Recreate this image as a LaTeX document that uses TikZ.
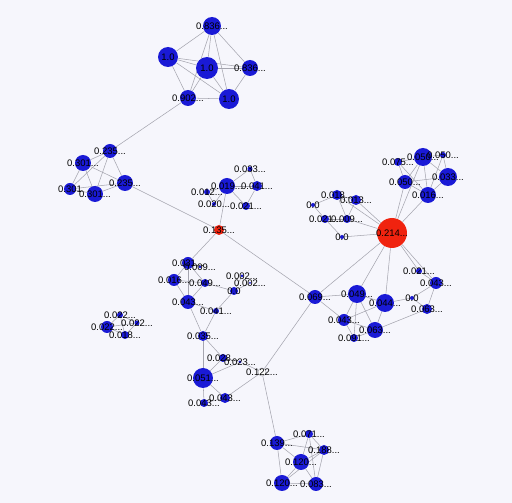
\documentclass[tikz,border=0pt]{standalone}
\usepackage{fontspec}
\setmainfont{Liberation Sans}
\definecolor{nblue}{RGB}{26,26,214}
\definecolor{nred}{RGB}{240,35,15}
\definecolor{bgcol}{RGB}{246,246,252}
\definecolor{ecol}{RGB}{165,165,175}
\newcommand\trail{...}
\pgfdeclarelayer{background}
\pgfdeclarelayer{edges}
\pgfdeclarelayer{labels}
\pgfsetlayers{background,edges,main,labels}
\begin{document}
\begin{tikzpicture}[x=0.02cm,y=-0.02cm,
    vb/.style={circle,fill=nblue,inner sep=0pt,minimum size=#1*0.2mm},
    vr/.style={circle,fill=nred,inner sep=0pt,minimum size=#1*0.2mm},
    vw/.style={circle,fill=white,draw=ecol,line width=0.3pt,inner sep=0pt,minimum size=#1*0.2mm},
    lbl/.style={font=\fontsize{5.4}{6}\selectfont,inner sep=0pt},
    link/.style={ecol,line width=0.3pt}]
    \begin{pgfonlayer}{background}
        \fill[bgcol] (0,0) rectangle (512,503);
    \end{pgfonlayer}
    \foreach \n/\x/\y/\d/\t in {a1/212/26/18/0.836\trail, a2/168/57/20/1.0, a3/207/68/22/1.0,
        a4/250/68/16/0.836\trail, a5/188/98/16/0.902\trail, a6/229/99/20/1.0,
        b1/110/151/14/0.235\trail, b2/83/163/16/0.301\trail, b3/70/189/12/0.301,
        b4/95/194/16/0.301\trail, b5/125/183/16/0.235\trail,
        c1/250/169/5/0.033\trail, c2/227/186/16/0.019\trail, c3/257/186/10/0.041\trail,
        c4/207/192/6/0.012\trail, c5/214/204/4/0.020\trail, c6/246/206/8/0.021\trail,
        d1/313/205/4/0.0, d2/337/195/10/0.018\trail, d3/356/200/10/0.013\trail,
        d4/325/219/8/0.021\trail, d5/347/219/8/0.009\trail, d6/342/237/4/0.0,
        e1/398/162/8/0.075\trail, e2/423/157/18/0.050\trail, e3/443/155/6/0.050\trail,
        e4/405/182/14/0.050\trail, e5/448/177/18/0.033\trail, e6/428/195/16/0.016\trail,
        f0/315/297/14/0.069\trail, f1/357/294/18/0.049\trail, f2/385/303/18/0.044\trail,
        f3/344/320/12/0.043\trail, f4/375/330/16/0.063\trail, f5/354/338/8/0.091\trail,
        g1/419/271/6/0.021\trail, g2/436/283/12/0.043\trail, g3/412/298/4/0.0, g4/427/309/10/0.063\trail,
        h1/188/263/12/0.031\trail, h2/200/267/3/0.009\trail, h3/174/280/12/0.016\trail,
        h4/205/283/8/0.049\trail, h5/234/291/8/0.0, h6/242/276/3/0.002\trail, h10/250/283/2/0.002\trail,
        h7/188/302/14/0.043\trail, h8/216/311/6/0.041\trail, h9/203/336/10/0.035\trail,
        i1/120/315/6/0.022\trail, i2/137/323/5/0.022\trail, i3/107/327/12/0.022\trail, i4/125/335/8/0.018\trail,
        j1/223/358/8/0.028\trail, j2/240/362/3/0.023\trail, j3/203/378/20/0.051\trail,
        j5/225/398/10/0.043\trail, j6/204/403/8/0.043\trail,
        k1/277/443/14/0.139\trail, k2/309/434/8/0.071\trail, k3/324/450/10/0.188\trail,
        k4/301/462/16/0.120\trail, k5/282/483/16/0.120\trail, k6/316/484/14/0.083\trail} {
        \node[vb=\d] (\n) at (\x,\y) {};
        \begin{pgfonlayer}{labels}
            \node[lbl] at (\x,\y) {\t};
        \end{pgfonlayer}
    }
    \node[vr=10] (r1) at (219,230) {};
    \node[vr=30] (r2) at (392,233) {};
    \node[vw=8] (j4) at (262,372) {};
    \begin{pgfonlayer}{labels}
        \node[lbl] at (r1) {0.135\trail};
        \node[lbl] at (r2) {0.214\trail};
        \node[lbl] at (j4) {0.122\trail};
    \end{pgfonlayer}
    \begin{pgfonlayer}{edges}
        \foreach \a/\b in {a1/a2, a1/a3, a1/a4, a1/a5, a1/a6, a2/a3, a2/a4, a2/a5, a2/a6,
            a3/a4, a3/a5, a3/a6, a4/a6, a5/a6, a5/b1,
            b1/b2, b1/b3, b1/b4, b1/b5, b2/b3, b2/b4, b2/b5, b3/b4, b3/b5, b4/b5, b5/r1,
            c1/c2, c1/c3, c2/c3, c2/c4, c2/c6, c3/c6, c4/c5, c2/c5, c2/r1, r1/h1, r1/f0,
            d1/d2, d1/d4, d2/d3, d2/d5, d3/d5, d4/d5, d4/d6, d3/r2, d5/r2, d6/r2, d2/r2,
            e1/e2, e1/e4, e2/e3, e2/e4, e2/e5, e2/e6, e3/e5, e3/e6, e4/e5, e4/e6, e5/e6, e1/e6,
            e4/r2, e6/r2, e2/r2, r2/f0, r2/f1, r2/f2, r2/g1, r2/g2,
            f0/f1, f0/f3, f1/f3, f1/f4, f1/f5, f1/f2, f2/f3, f2/f4, f3/f4, f3/f5, f4/f5,
            f2/g3, g1/g2, g2/g3, g2/g4, g3/g4, g4/f4, f0/j4,
            h1/h2, h1/h3, h1/h4, h1/h7, h3/h4, h3/h7, h4/h7, h4/h5, h5/h6, h5/h10, h5/h8,
            h7/h8, h7/h9, h8/h9,
            h9/j1, h9/j3, j1/j3, j1/j2, j2/j3, j2/j4, j3/j5, j3/j6, j5/j6, j5/j4, j4/k1,
            i1/i2, i1/i3, i1/i4, i2/i3, i2/i4, i3/i4,
            k1/k2, k1/k3, k1/k4, k1/k5, k2/k3, k2/k4, k2/k6, k3/k4, k3/k6, k3/k5, k4/k5, k4/k6, k5/k6}
            \draw[link] (\a) -- (\b);
    \end{pgfonlayer}
\end{tikzpicture}
\end{document}
